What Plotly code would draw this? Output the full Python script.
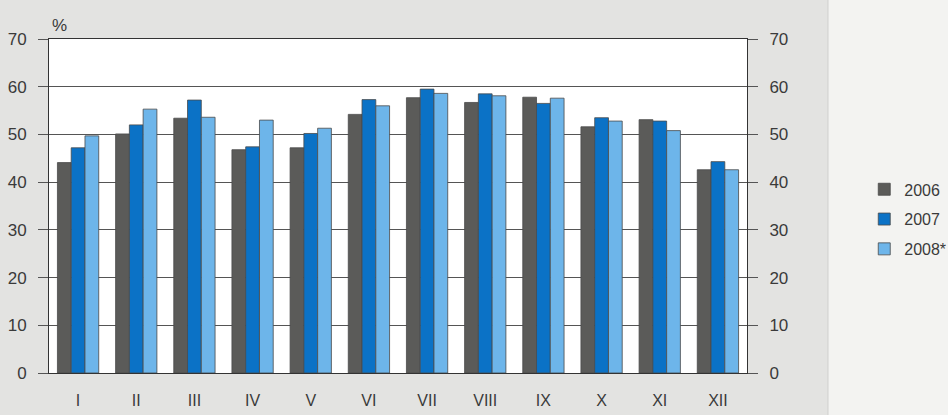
import plotly.graph_objects as go

months = ["I", "II", "III", "IV", "V", "VI", "VII", "VIII", "IX", "X", "XI", "XII"]
y2006 = [44.1, 50.1, 53.4, 46.8, 47.2, 54.2, 57.7, 56.7, 57.8, 51.6, 53.1, 42.6]
y2007 = [47.2, 52.0, 57.2, 47.4, 50.2, 57.3, 59.5, 58.5, 56.5, 53.5, 52.8, 44.3]
y2008 = [49.7, 55.3, 53.6, 53.0, 51.3, 56.0, 58.6, 58.1, 57.6, 52.8, 50.8, 42.6]
yticks = [0, 10, 20, 30, 40, 50, 60, 70]

font = "Liberation Sans, Arial, sans-serif"

fig = go.Figure()
series = [("2006", y2006, "#5b5b59"), ("2007", y2007, "#0b72c6"), ("2008*", y2008, "#6db5ea")]
for name, vals, col in series:
    fig.add_trace(go.Bar(
        x=months, y=vals, name=name, legendgroup=name,
        marker=dict(color=col, line=dict(color="#4a4a4a", width=0.8)),
    ))

# invisible trace to drive the right-hand axis
fig.add_trace(go.Scatter(x=months, y=y2006, yaxis="y2", mode="none",
                         showlegend=False, hoverinfo="skip"))

fig.update_layout(
    width=948, height=415,
    margin=dict(l=49, r=201, t=39, b=42, autoexpand=False),
    barmode="group", bargap=0.29, bargroupgap=0,
    paper_bgcolor="#f3f3f1", plot_bgcolor="rgba(0,0,0,0)",
    font=dict(family=font, size=17, color="#3a3a3a"),
    xaxis=dict(showgrid=False, ticks="", ticklabelstandoff=13, automargin=False,
               showline=True, linecolor="#333", linewidth=1, mirror=True,
               tickfont=dict(size=16)),
    yaxis=dict(range=[0, 70], tickvals=yticks, showgrid=True, gridcolor="#555",
               gridwidth=0.8, ticks="outside", ticklen=10, tickcolor="#555",
               ticklabelstandoff=8, showline=True, linecolor="#333", automargin=False,
               linewidth=1, mirror=True, zeroline=False),
    yaxis2=dict(range=[0, 70], tickvals=yticks, overlaying="y", side="right",
                showgrid=False, ticks="outside", ticklen=10, tickcolor="#555",
                ticklabelstandoff=8, zeroline=False, automargin=False),
    legend=dict(x=1.168, y=0.46, xanchor="left", yanchor="middle",
                font=dict(size=16), bgcolor="rgba(0,0,0,0)",
                traceorder="grouped", tracegroupgap=6),
    showlegend=True,
    shapes=[
        dict(type="rect", xref="paper", yref="paper", x0=-0.2, x1=1.116,
             y0=-0.3, y1=1.3, fillcolor="#e3e3e1", line=dict(color="#cfcfcd", width=1),
             layer="below"),
        dict(type="rect", xref="paper", yref="paper", x0=0, x1=1, y0=0, y1=1,
             fillcolor="white", line=dict(width=0), layer="below"),
    ],
    annotations=[
        dict(text="%", xref="paper", yref="paper", x=0.002, y=1.005,
             xanchor="left", yanchor="bottom", showarrow=False,
             font=dict(size=17, color="#3a3a3a")),
    ],
)

fig.write_html("out.html", config={"displayModeBar": False},
               post_script="document.body.style.margin='0';")
